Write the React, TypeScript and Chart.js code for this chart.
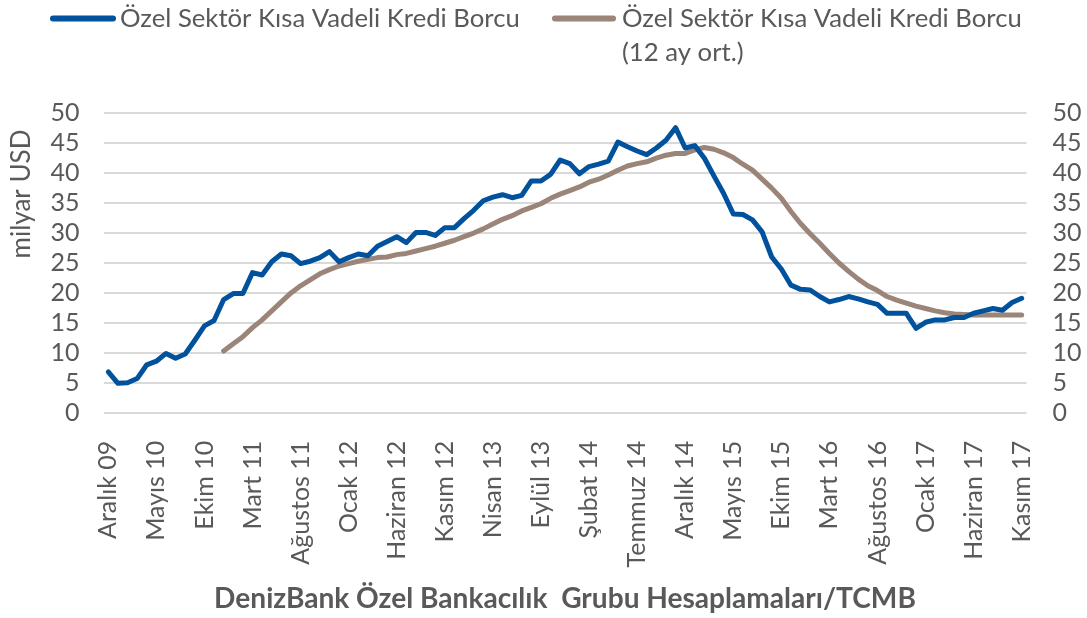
import React, { useEffect, useRef } from 'react';
import { Chart, registerables } from 'chart.js';

Chart.register(...registerables);

const monthNames = ['Ocak', 'Şubat', 'Mart', 'Nisan', 'Mayıs', 'Haziran', 'Temmuz', 'Ağustos', 'Eylül', 'Ekim', 'Kasım', 'Aralık'];

// Monthly categories: Aralık 09 ... Kasım 17
const categories: string[] = [];
for (let k = 0; k < 96; k++) {
  const m = (11 + k) % 12;
  const y = 2009 + Math.floor((11 + k) / 12);
  categories.push(`${monthNames[m]} ${String(y % 100).padStart(2, '0')}`);
}

const shortTermDebt: number[] = [
  6.8, 4.9, 5.0, 5.7, 8.0, 8.6, 9.9, 9.1, 9.8, 12.1,
  14.5, 15.4, 18.9, 19.9, 19.9, 23.4, 23.0, 25.2, 26.5, 26.2,
  24.9, 25.3, 25.9, 26.9, 25.2, 25.9, 26.5, 26.2, 27.8, 28.6,
  29.4, 28.4, 30.1, 30.1, 29.6, 30.9, 30.9, 32.4, 33.8, 35.4,
  36.0, 36.4, 35.9, 36.3, 38.7, 38.7, 39.8, 42.2, 41.6, 39.9,
  41.1, 41.5, 42.0, 45.2, 44.4, 43.7, 43.1, 44.2, 45.5, 47.6,
  44.2, 44.6, 42.5, 39.5, 36.6, 33.2, 33.1, 32.2, 30.2, 26.0,
  24.0, 21.3, 20.6, 20.5, 19.4, 18.5, 18.9, 19.4, 19.0, 18.5,
  18.1, 16.6, 16.6, 16.6, 14.1, 15.1, 15.5, 15.5, 15.9, 15.9,
  16.6, 17.0, 17.4, 17.1, 18.4, 19.1,
];

const movingAvg12: (number | null)[] = [
  null, null, null, null, null, null, null, null, null, null, null, null,
  10.3, 11.5, 12.7, 14.2, 15.5, 17.0, 18.5, 20.0,
  21.2, 22.2, 23.2, 23.9, 24.5, 24.9, 25.3, 25.6, 25.9, 26.0,
  26.4, 26.6, 27.0, 27.4, 27.8, 28.3, 28.8, 29.4, 30.0, 30.7,
  31.5, 32.3, 32.9, 33.7, 34.3, 34.9, 35.8, 36.5, 37.1, 37.7,
  38.5, 39.0, 39.7, 40.5, 41.2, 41.6, 41.9, 42.5, 43.0, 43.3,
  43.3, 43.9, 44.3, 44.0, 43.4, 42.6, 41.5, 40.5, 39.0, 37.5,
  35.8, 33.6, 31.6, 29.9, 28.3, 26.6, 25.0, 23.6, 22.3, 21.2,
  20.4, 19.4, 18.8, 18.3, 17.8, 17.4, 17.0, 16.7, 16.5, 16.4,
  16.3, 16.3, 16.3, 16.3, 16.3, 16.3,
];

const seriesNames = ['Özel Sektör Kısa Vadeli Kredi Borcu', 'Özel Sektör Kısa Vadeli Kredi Borcu'];
const seriesNote = '(12 ay ort.)';
const yTitle = 'milyar USD';
const footnote = 'DenizBank Özel Bankacılık  Grubu Hesaplamaları/TCMB';
const tickEvery = 5;
const yMin = 0;
const yMax = 50;
const yStep = 5;

const BLUE = '#00529c';
const BROWN = '#9a8578';
const TEXT = '#595959';
const GRID = '#d9d9d9';
const FAMILY = 'Lato, "Open Sans", sans-serif';

function fitSize(ctx: CanvasRenderingContext2D, text: string, weight: string, target: number) {
  ctx.font = `${weight} 100px ${FAMILY}`;
  const w = ctx.measureText(text).width;
  return (100 * target) / w;
}

const decorPlugin = {
  id: 'decor',
  afterDraw(chart: any) {
    const ctx: CanvasRenderingContext2D = chart.ctx;
    ctx.save();
    // Legend
    const lsize = fitSize(ctx, seriesNames[0], 'normal', 400);
    ctx.lineCap = 'round';
    ctx.lineWidth = 6;
    ctx.strokeStyle = BLUE;
    ctx.beginPath();
    ctx.moveTo(53, 18.5);
    ctx.lineTo(113, 18.5);
    ctx.stroke();
    ctx.strokeStyle = BROWN;
    ctx.beginPath();
    ctx.moveTo(555, 18.5);
    ctx.lineTo(613, 18.5);
    ctx.stroke();
    ctx.fillStyle = TEXT;
    ctx.font = `normal ${lsize}px ${FAMILY}`;
    ctx.textBaseline = 'middle';
    ctx.textAlign = 'left';
    ctx.fillText(seriesNames[0], 120, 19);
    ctx.fillText(seriesNames[1], 622, 19);
    ctx.fillText(seriesNote, 622, 53);

    // Y title
    ctx.save();
    ctx.translate(22, 194);
    ctx.rotate(-Math.PI / 2);
    ctx.textAlign = 'center';
    ctx.font = `normal 26px ${FAMILY}`;
    ctx.fillText(yTitle, 0, 0);
    ctx.restore();

    // Footnote
    const fsize = fitSize(ctx, footnote, 'bold', 702);
    ctx.font = `bold ${fsize}px ${FAMILY}`;
    ctx.textAlign = 'center';
    ctx.fillText(footnote, 565, 599);
    ctx.restore();
  },
};

export default function App() {
  const ref = useRef<HTMLCanvasElement | null>(null);

  useEffect(() => {
    if (!ref.current) return;
    const tickFont = { family: FAMILY, size: 25, lineHeight: 1 };
    const chart = new Chart(ref.current, {
      type: 'line',
      data: {
        labels: categories,
        datasets: [
          {
            label: seriesNames[0],
            data: shortTermDebt,
            borderColor: BLUE,
            backgroundColor: BLUE,
            borderWidth: 5,
            pointRadius: 0,
            tension: 0,
            borderJoinStyle: 'round',
            borderCapStyle: 'round',
            yAxisID: 'y',
          },
          {
            label: seriesNames[1] + ' ' + seriesNote,
            data: movingAvg12,
            borderColor: BROWN,
            backgroundColor: BROWN,
            borderWidth: 5,
            pointRadius: 0,
            tension: 0,
            borderJoinStyle: 'round',
            borderCapStyle: 'round',
            yAxisID: 'y',
          },
        ],
      },
      options: {
        responsive: false,
        animation: false,
        devicePixelRatio: 1,
        layout: { padding: { top: 113.3, left: 0, right: 0, bottom: 0 } },
        plugins: {
          legend: { display: false },
          tooltip: { enabled: false },
        },
        scales: {
          x: {
            type: 'category',
            offset: true,
            grid: { display: false },
            border: { display: false },
            ticks: {
              autoSkip: false,
              maxRotation: 90,
              minRotation: 90,
              padding: 20,
              color: TEXT,
              font: { family: FAMILY, size: 25 },
              callback: (_v: any, i: number) => (i % tickEvery === 0 ? categories[i] : ''),
            },
            afterFit: (s: any) => {
              s.height = 205.3;
            },
          },
          y: {
            position: 'left',
            min: yMin,
            max: yMax,
            ticks: { stepSize: yStep, autoSkip: false, padding: 24, color: TEXT, font: tickFont },
            grid: { color: GRID, lineWidth: 2, drawTicks: false },
            border: { display: false },
            afterFit: (s: any) => {
              s.width = 103.5;
            },
          },
          y2: {
            position: 'right',
            min: yMin,
            max: yMax,
            ticks: { stepSize: yStep, autoSkip: false, padding: 26, color: TEXT, font: tickFont },
            grid: { display: false, drawTicks: false },
            border: { display: false },
            afterFit: (s: any) => {
              s.width = 60.5;
            },
          },
        },
      } as any,
      plugins: [decorPlugin],
    });
    return () => chart.destroy();
  }, []);

  return (
    <div style={{ position: 'absolute', left: 0, top: 0, width: 1087, height: 618, background: '#fff' }}>
      <canvas ref={ref} width={1087} height={618} style={{ display: 'block' }} />
    </div>
  );
}
